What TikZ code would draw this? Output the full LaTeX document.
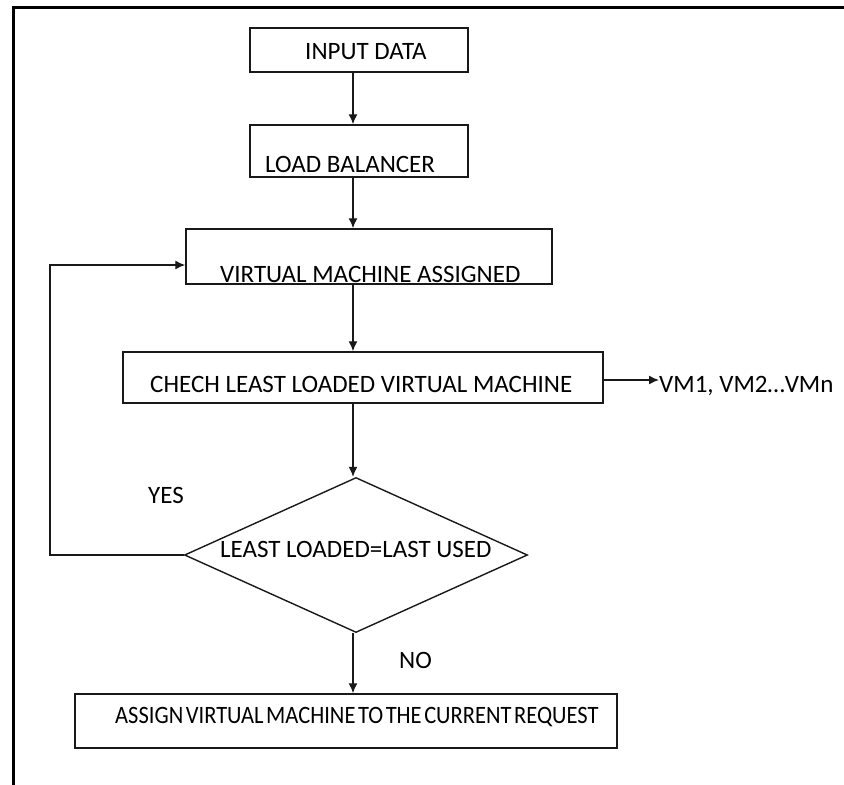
\documentclass[tikz,border=0pt]{standalone}
\usepackage{fontspec}
\setmainfont{Carlito}
\newfontfamily\narrowfont[FakeStretch=0.9,WordSpace=0.5]{Carlito}
\usetikzlibrary{shapes.geometric,arrows.meta}
\begin{document}
\begin{tikzpicture}[x=1pt,y=-1pt,
  box/.style={draw=black!90, line width=1.5pt, rectangle, inner sep=0pt},
  decision/.style={draw=black!90, line width=1.4pt, diamond, inner sep=0pt},
  lbl/.style={inner sep=0pt, anchor=base west, font=\fontsize{25}{30}\selectfont, text=black},
  flow/.style={draw=black!90, line width=1.4pt, -{Latex[length=10pt,width=9pt]}},
  frame/.style={draw=black, line width=3pt}]
\useasboundingbox (0,0) rectangle (844,785);

% page frame (top and left edges)
\draw[frame] (13,785) -- (13,7) -- (844,7);

% process boxes
\node[box, minimum width=218, minimum height=44] (input) at (359,50) {};
\node[box, minimum width=218, minimum height=52] (lb) at (359,151) {};
\node[box, minimum width=366, minimum height=55] (vma) at (369,256.5) {};
\node[box, minimum width=480, minimum height=51] (check) at (363,377.5) {};
\node[decision, minimum width=343, minimum height=155] (dec) at (356,555) {};
\node[box, minimum width=542, minimum height=54] (assign) at (346,721) {};

% texts
\node[lbl] (tinput) at (305,59) {INPUT DATA};
\node[lbl] (tlb) at (265,172) {LOAD BALANCER};
\node[lbl] (tvma) at (220,282) {VIRTUAL MACHINE ASSIGNED};
\node[lbl] (tcheck) at (150,392) {CHECH LEAST LOADED VIRTUAL MACHINE};
\node[lbl] (vmlist) at (659,392) {VM1, VM2…VMn};
\node[lbl] (tdec) at (220,557) {LEAST LOADED=LAST USED};
\node[lbl] (yes) at (148,503) {YES};
\node[lbl] (no) at (399,668) {NO};
\node[lbl, font=\narrowfont\fontsize{25}{30}\selectfont]
  (tassign) at (115,723) {ASSIGN VIRTUAL MACHINE TO THE CURRENT REQUEST};

% connectors
\coordinate (spine) at (353,0);
\coordinate (loop) at (50,265);
\draw[flow] (input.south -| spine) -- (lb.north -| spine);
\draw[flow] (lb.south -| spine) -- (vma.north -| spine);
\draw[flow] (vma.south -| spine) -- (check.north -| spine);
\draw[flow] (check.south -| spine) -- (dec.north -| spine);
\draw[flow] (dec.south -| spine) -- (assign.north -| spine);
\draw[flow] (check.east |- 0,380) -- (vmlist.west |- 0,380);
\draw[flow] (dec.west) -| (loop) -- (loop -| vma.west);
\end{tikzpicture}
\end{document}
